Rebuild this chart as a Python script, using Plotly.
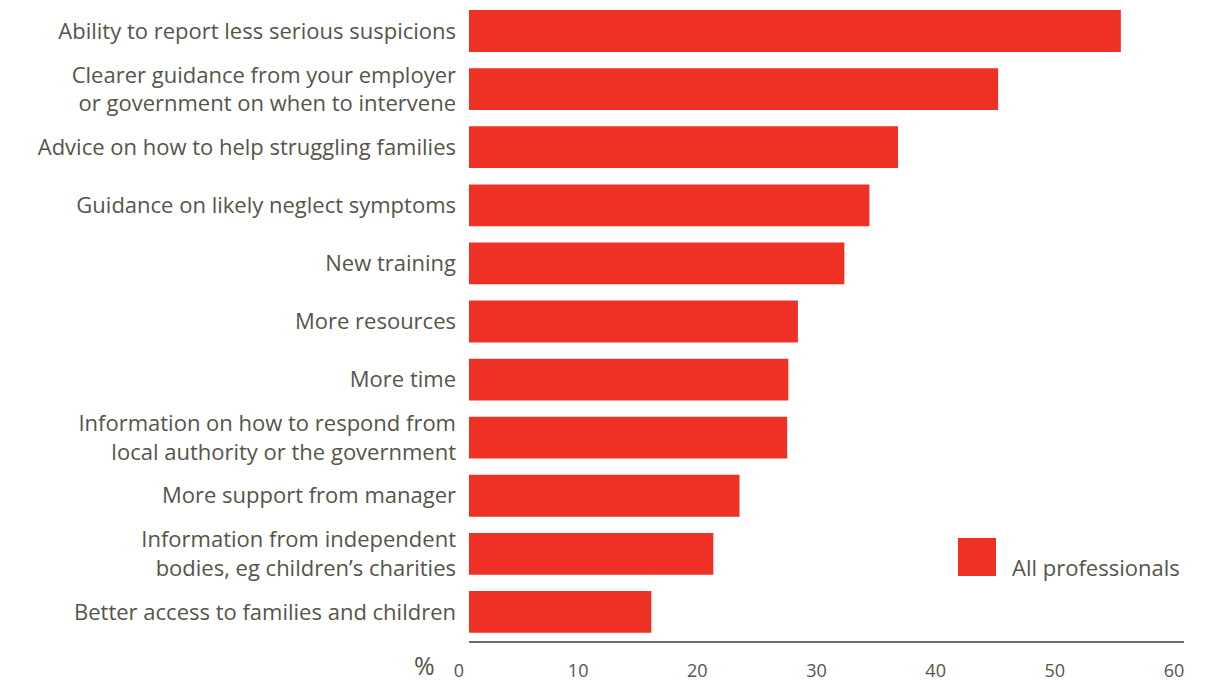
import plotly.graph_objects as go

categories = [
    "Ability to report less serious suspicions",
    "Clearer guidance from your employer<br>or government on when to intervene",
    "Advice on how to help struggling families",
    "Guidance on likely neglect symptoms",
    "New training",
    "More resources",
    "More time",
    "Information on how to respond from<br>local authority or the government",
    "More support from manager",
    "Information from independent<br>bodies, eg children\u2019s charities",
    "Better access to families and children",
]
values = [54.7, 44.4, 36.0, 33.6, 31.5, 27.6, 26.8, 26.7, 22.7, 20.5, 15.3]
series_name = "All professionals"
x_ticks = [0, 10, 20, 30, 40, 50, 60]

RED = "#ee3124"
TXT = "#55554b"
FONT = "Open Sans"

W, H = 1203, 673
L, R, T, B = 461, 27, 0, 40
PW, PH = W - L - R, H - T - B

fig = go.Figure()
fig.add_trace(go.Bar(
    y=categories, x=values, orientation="h", name=series_name,
    marker=dict(color=RED, line=dict(width=0)), showlegend=False,
))

fig.update_layout(
    width=W, height=H,
    margin=dict(l=L, r=R, t=T, b=B),
    paper_bgcolor="white", plot_bgcolor="white",
    bargap=0.28,
    font=dict(family=FONT, color=TXT, size=22),
    showlegend=False,
)
fig.update_yaxes(
    range=[10.5, -0.396], showgrid=False, zeroline=False, showline=False,
    ticks="", ticklabelstandoff=12, tickfont=dict(size=22, color=TXT, family=FONT),
)
fig.update_xaxes(
    range=[0, 60], tickvals=x_ticks, ticktext=[str(v) for v in x_ticks],
    showgrid=False, zeroline=False, showline=True, linecolor="#6b6b63", linewidth=2,
    ticks="", ticklabelstandoff=12, ticklabelshift=-10,
    tickfont=dict(size=18, color=TXT, family=FONT),
)
fig.add_annotation(
    text="%", xref="paper", yref="paper", x=(429 - L) / PW, y=(633 - 657) / PH,
    xanchor="right", yanchor="middle",
    showarrow=False, font=dict(size=25, color=TXT, family=FONT),
)
# legend swatch and label
fig.add_shape(type="rect", xref="paper", yref="paper",
              x0=(950 - L) / PW, x1=(988 - L) / PW,
              y0=(633 - 568) / PH, y1=(633 - 530) / PH,
              fillcolor=RED, line=dict(width=0))
fig.add_annotation(
    text=series_name, xref="paper", yref="paper", x=(1002 - L) / PW, y=(633 - 559) / PH,
    xanchor="left", yanchor="middle", showarrow=False,
    font=dict(size=22, color=TXT, family=FONT),
)

fig.write_html("out.html")
